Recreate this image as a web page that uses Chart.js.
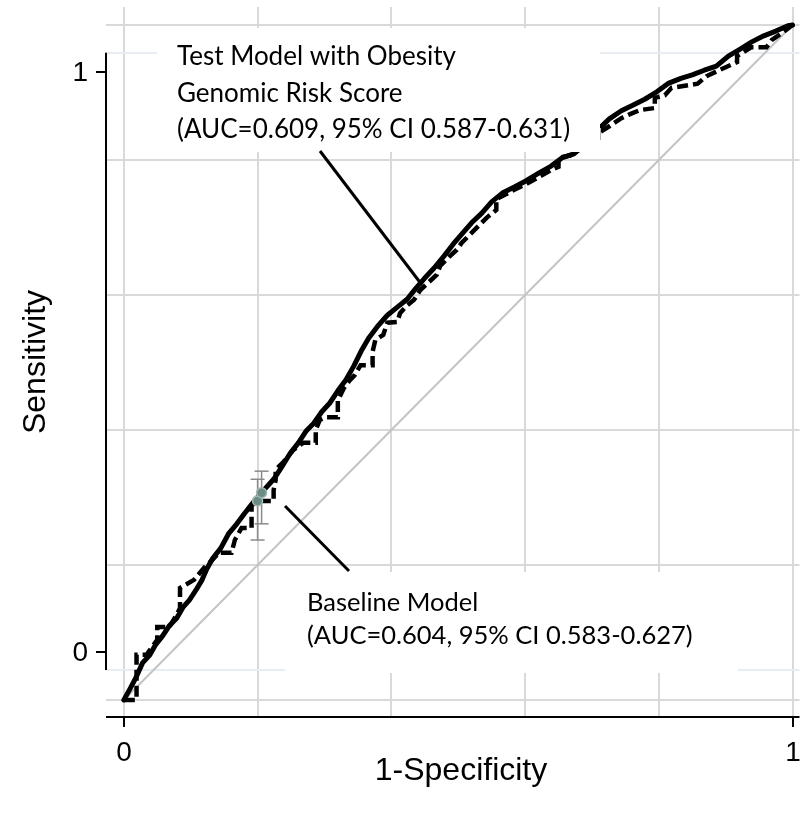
<!DOCTYPE html>
<html>
<head>
<meta charset="utf-8">
<script src="https://cdn.jsdelivr.net/npm/chart.js@4.4.1/dist/chart.umd.min.js"></script>
<style>
  html, body { margin: 0; padding: 0; background: #ffffff; }
  canvas { display: block; }
</style>
</head>
<body>
<canvas id="roc" width="806" height="814"></canvas>
<script>
// ROC curve: test model (with obesity genomic risk score), solid
const testFPR = [0, 0.010, 0.018, 0.028, 0.039, 0.047, 0.058, 0.068, 0.079, 0.089, 0.098, 0.108, 0.117, 0.124, 0.133,
  0.145, 0.157, 0.169, 0.181, 0.193, 0.204, 0.212, 0.224, 0.236, 0.249, 0.261, 0.273, 0.284, 0.296, 0.308, 0.320,
  0.332, 0.344, 0.356, 0.366, 0.379, 0.394, 0.409, 0.424, 0.436, 0.449, 0.464, 0.479, 0.493, 0.507, 0.520, 0.535,
  0.550, 0.566, 0.584, 0.601, 0.621, 0.639, 0.655, 0.673, 0.690, 0.708, 0.726, 0.744, 0.761, 0.779, 0.797, 0.815,
  0.833, 0.850, 0.868, 0.886, 0.904, 0.921, 0.939, 0.957, 0.975, 0.993, 1];
const testTPR = [0, 0.018, 0.033, 0.055, 0.067, 0.081, 0.095, 0.110, 0.121, 0.138, 0.148, 0.163, 0.178, 0.194, 0.210,
  0.225, 0.247, 0.261, 0.277, 0.292, 0.305, 0.314, 0.327, 0.345, 0.366, 0.381, 0.399, 0.410, 0.427, 0.440, 0.458,
  0.474, 0.495, 0.519, 0.536, 0.553, 0.570, 0.582, 0.594, 0.609, 0.624, 0.640, 0.658, 0.676, 0.692, 0.707, 0.721,
  0.738, 0.751, 0.760, 0.769, 0.781, 0.791, 0.803, 0.809, 0.824, 0.844, 0.861, 0.873, 0.881, 0.890, 0.901, 0.914,
  0.921, 0.926, 0.933, 0.939, 0.954, 0.964, 0.975, 0.984, 0.991, 0.999, 1];

// ROC curve: baseline model, dashed (empirical steps)
const baseFPR = [0, 0.019, 0.019, 0.019, 0.034, 0.041, 0.050, 0.050, 0.068, 0.077, 0.084, 0.084, 0.105, 0.120, 0.132,
  0.142, 0.161, 0.166, 0.176, 0.191, 0.191, 0.204, 0.224, 0.224, 0.227, 0.227, 0.239, 0.253, 0.268, 0.287, 0.287,
  0.293, 0.302, 0.320, 0.320, 0.329, 0.338, 0.345, 0.354, 0.372, 0.372, 0.376, 0.388, 0.394, 0.409, 0.413, 0.424,
  0.434, 0.443, 0.456, 0.468, 0.473, 0.486, 0.498, 0.505, 0.520, 0.530, 0.542, 0.557, 0.557, 0.569, 0.584, 0.601,
  0.621, 0.639, 0.650, 0.650, 0.668, 0.690, 0.708, 0.726, 0.744, 0.757, 0.772, 0.794, 0.794, 0.809, 0.819, 0.839,
  0.858, 0.871, 0.890, 0.917, 0.917, 0.927, 0.938, 0.961, 0.969, 0.984, 1];
const baseTPR = [0, 0, 0.015, 0.067, 0.067, 0.077, 0.089, 0.108, 0.108, 0.123, 0.136, 0.166, 0.178, 0.196, 0.207,
  0.218, 0.218, 0.237, 0.255, 0.255, 0.289, 0.295, 0.295, 0.311, 0.326, 0.341, 0.353, 0.370, 0.381, 0.381, 0.400,
  0.415, 0.419, 0.419, 0.444, 0.462, 0.474, 0.481, 0.496, 0.496, 0.516, 0.533, 0.541, 0.559, 0.560, 0.573, 0.585,
  0.593, 0.607, 0.619, 0.630, 0.643, 0.656, 0.667, 0.677, 0.692, 0.702, 0.714, 0.726, 0.742, 0.748, 0.756, 0.764,
  0.775, 0.785, 0.790, 0.803, 0.807, 0.821, 0.839, 0.850, 0.862, 0.868, 0.874, 0.877, 0.892, 0.896, 0.907, 0.910,
  0.913, 0.924, 0.933, 0.945, 0.954, 0.960, 0.967, 0.967, 0.978, 0.988, 1];

// Operating points with 95% confidence intervals on sensitivity
const ciFPR  = [0.200, 0.206];
const ciTPR  = [0.295, 0.307];
const ciLow  = [0.237, 0.261];
const ciHigh = [0.327, 0.339];

// Chance line
const chanceFPR = [0, 1];
const chanceTPR = [0, 1];

// Axes
const gridValues = [0, 0.2, 0.4, 0.6, 0.8, 1];
const xTickValues = [0, 1];
const xTickLabels = ['0', '1'];
const sensTickValues = [0, 1];
const sensTickLabels = ['0', '1'];
const sensAxisSpan = [-0.031, 1.033];
const xTitle = '1-Specificity';
const yTitle = 'Sensitivity';

const testLabel = ['Test Model with Obesity', 'Genomic Risk Score', '(AUC=0.609, 95% CI 0.587-0.631)'];
const baseLabel = ['Baseline Model', '(AUC=0.604, 95% CI 0.583-0.627)'];

const toPoints = (xs, ys) => xs.map((v, i) => ({ x: v, y: ys[i] }));

const AXIS_FONT = '"Liberation Sans", Arial, sans-serif';
const NOTE_FONT = 'Lato, "Open Sans", sans-serif';

function seg(ctx, x1, y1, x2, y2) {
  ctx.beginPath();
  ctx.moveTo(x1, y1);
  ctx.lineTo(x2, y2);
  ctx.stroke();
}

const rocDecor = {
  id: 'rocDecor',
  beforeDatasetsDraw(chart) {
    const { ctx, chartArea: a, scales } = chart;
    const x = scales.x, y = scales.y, s = scales.sens;
    ctx.save();
    ctx.strokeStyle = '#d9d9d9';
    ctx.lineWidth = 2;
    gridValues.forEach(v => {
      const px = Math.round(x.getPixelForValue(v));
      seg(ctx, px, a.top, px, a.bottom);
    });
    gridValues.forEach(v => {
      const py = Math.round(y.getPixelForValue(v));
      seg(ctx, a.left, py, a.right, py);
    });
    // faint frame lines at the ends of the sensitivity axis
    ctx.strokeStyle = '#e7edf3';
    sensAxisSpan.forEach(v => {
      const py = Math.round(s.getPixelForValue(v));
      seg(ctx, a.left, py, a.right, py);
    });
    ctx.restore();
  },
  beforeDatasetDraw(chart, args) {
    if (chart.data.datasets[args.index].id !== 'ci') return;
    const { ctx, scales: { x, y } } = chart;
    ctx.save();
    ctx.strokeStyle = '#8a8a8a';
    ctx.lineWidth = 1.5;
    ciFPR.forEach((fx, i) => {
      const px = x.getPixelForValue(fx);
      const lo = y.getPixelForValue(ciLow[i]);
      const hi = y.getPixelForValue(ciHigh[i]);
      seg(ctx, px, lo, px, hi);
      seg(ctx, px - 7, lo, px + 7, lo);
      seg(ctx, px - 7, hi, px + 7, hi);
    });
    ctx.restore();
  },
  afterDatasetsDraw(chart) {
    const { ctx, chartArea: a, scales } = chart;
    const x = scales.x, s = scales.sens;
    ctx.save();

    // label panels
    ctx.fillStyle = '#ffffff';
    ctx.fillRect(157, 28, 443, 124);
    ctx.fillRect(285, 572, 453, 101);

    // thin marker at the right edge of the upper panel
    ctx.strokeStyle = '#b0b0b0';
    ctx.lineWidth = 1;
    seg(ctx, 600.5, 128, 600.5, 140);

    // leader lines
    ctx.strokeStyle = '#000000';
    ctx.lineWidth = 3;
    seg(ctx, 320, 151, 422, 285);
    seg(ctx, 285, 506, 349, 571);

    // annotations
    ctx.fillStyle = '#000000';
    ctx.textAlign = 'left';
    ctx.textBaseline = 'middle';
    ctx.font = '26px ' + NOTE_FONT;
    testLabel.forEach((t, i) => ctx.fillText(t, 177, 57 + i * 36.5));
    ctx.font = '25.5px ' + NOTE_FONT;
    baseLabel.forEach((t, i) => ctx.fillText(t, 307, 603 + i * 33));

    // sensitivity axis
    ctx.strokeStyle = '#000000';
    ctx.lineWidth = 2;
    const yTop = s.getPixelForValue(sensAxisSpan[1]);
    const yBot = s.getPixelForValue(sensAxisSpan[0]);
    seg(ctx, a.left, yTop, a.left, yBot);
    ctx.font = '28px ' + AXIS_FONT;
    ctx.textAlign = 'right';
    sensTickValues.forEach((v, i) => {
      const py = Math.round(s.getPixelForValue(v));
      seg(ctx, a.left - 10, py, a.left, py);
      ctx.fillText(sensTickLabels[i], a.left - 18, py + 1);
    });

    // specificity axis
    seg(ctx, a.left, a.bottom, a.right, a.bottom);
    ctx.textAlign = 'center';
    ctx.textBaseline = 'middle';
    xTickValues.forEach((v, i) => {
      const px = Math.round(x.getPixelForValue(v));
      seg(ctx, px, a.bottom, px, a.bottom + 10);
      ctx.fillText(xTickLabels[i], px, a.bottom + 36);
    });

    // titles
    ctx.font = '32px ' + AXIS_FONT;
    ctx.fillText(xTitle, 461, 771);
    ctx.translate(36, 362);
    ctx.rotate(-Math.PI / 2);
    ctx.fillText(yTitle, 0, 0);
    ctx.restore();
  }
};

new Chart(document.getElementById('roc'), {
  type: 'line',
  data: {
    datasets: [
      {
        id: 'ci',
        data: toPoints(ciFPR, ciTPR),
        showLine: false,
        pointRadius: 5,
        pointBackgroundColor: '#6c8b84',
        pointBorderColor: '#a4b8b2',
        pointBorderWidth: 1.5,
        order: 0
      },
      {
        id: 'test',
        data: toPoints(testFPR, testTPR),
        borderColor: '#000000',
        borderWidth: 5,
        pointRadius: 0,
        borderJoinStyle: 'round',
        borderCapStyle: 'round',
        tension: 0,
        order: 1
      },
      {
        id: 'baseline',
        data: toPoints(baseFPR, baseTPR),
        borderColor: '#000000',
        borderWidth: 4.5,
        borderDash: [11, 5],
        pointRadius: 0,
        borderJoinStyle: 'miter',
        tension: 0,
        order: 2
      },
      {
        id: 'chance',
        data: toPoints(chanceFPR, chanceTPR),
        borderColor: '#c4c4c4',
        borderWidth: 2,
        pointRadius: 0,
        order: 3
      }
    ]
  },
  options: {
    responsive: false,
    animation: false,
    devicePixelRatio: 1,
    layout: { padding: { left: 106, top: 7, right: 0, bottom: 97 } },
    plugins: { legend: { display: false }, tooltip: { enabled: false } },
    scales: {
      x: { type: 'linear', display: false, min: -18 / 675, max: 682 / 675 },
      y: { type: 'linear', display: false, min: -17 / 675, max: 693 / 675 },
      sens: { type: 'linear', display: false, position: 'left', min: -65 / 580, max: 645 / 580 }
    }
  },
  plugins: [rocDecor]
});
</script>
</body>
</html>
